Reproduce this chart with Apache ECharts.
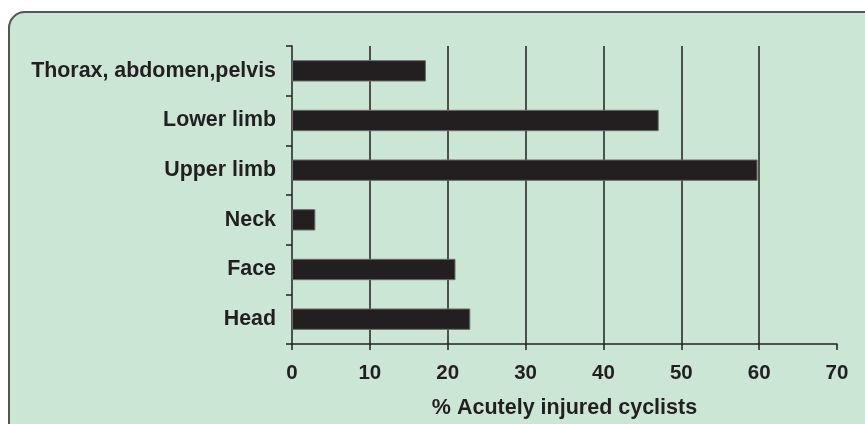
<!DOCTYPE html>
<html>
<head>
<meta charset="utf-8">
<script src="https://cdn.jsdelivr.net/npm/echarts@6/dist/echarts.min.js"></script>
<style>
html,body{margin:0;padding:0;background:#ffffff;}
#chart{width:865px;height:424px;}
</style>
</head>
<body>
<div id="chart"></div>
<script>
const categories = ['Head', 'Face', 'Neck', 'Upper limb', 'Lower limb', 'Thorax, abdomen,pelvis'];
const values = [22.9, 21.0, 3.0, 59.8, 47.1, 17.2];
const xTicks = { min: 0, max: 70, interval: 10 };
const xTitle = '% Acutely injured cyclists';

const ink = '#231f20';
const font = '"Liberation Sans", Arial, sans-serif';

const chart = echarts.init(document.getElementById('chart'), null, { renderer: 'canvas' });
chart.setOption({
  animation: false,
  backgroundColor: '#ffffff',
  graphic: [{
    type: 'rect',
    z: -10,
    silent: true,
    shape: { x: 9, y: 12, width: 900, height: 450, r: 16 },
    style: { fill: '#cce6d5', stroke: '#555555', lineWidth: 2 }
  }],
  grid: { left: 292, right: 28, top: 46, bottom: 80, containLabel: false },
  xAxis: {
    type: 'value',
    min: xTicks.min, max: xTicks.max, interval: xTicks.interval,
    name: xTitle,
    nameLocation: 'middle',
    nameGap: 53,
    nameTextStyle: { fontFamily: font, fontWeight: 'bold', fontSize: 21.5, color: ink },
    axisLine: { show: true, lineStyle: { color: ink, width: 1.5 } },
    axisTick: { show: true, length: 6, lineStyle: { color: ink, width: 1.5 } },
    axisLabel: { margin: 19, fontFamily: font, fontWeight: 'bold', fontSize: 20.5, color: ink },
    splitLine: { show: true, showMinLine: false, showMaxLine: false, lineStyle: { color: ink, width: 1.5 } }
  },
  yAxis: {
    type: 'category',
    data: categories,
    axisLine: { show: true, lineStyle: { color: ink, width: 1.5 } },
    axisTick: { show: true, length: 6, lineStyle: { color: ink, width: 1.5 } },
    axisLabel: { margin: 16, fontFamily: font, fontWeight: 'bold', fontSize: 21.4, color: ink },
    splitLine: { show: false }
  },
  series: [{
    type: 'bar',
    data: values,
    barWidth: '43%',
    itemStyle: { color: ink, borderColor: '#6a6a6a', borderWidth: 1 },
    z: 3
  }]
});
</script>
</body>
</html>
